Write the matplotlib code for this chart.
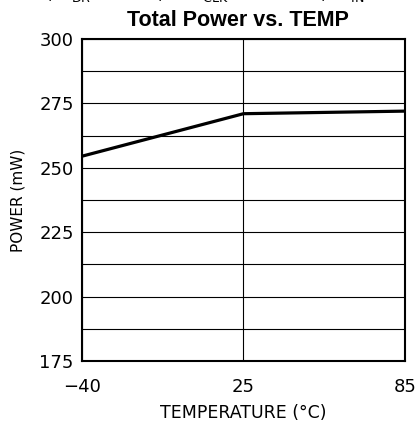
import matplotlib
matplotlib.use("Agg")
import matplotlib.pyplot as plt
from matplotlib.ticker import MultipleLocator

temp_labels = ["-40", "25", "85"]
power_mw = [254.5, 271.0, 272.0]

tick_font = ["Liberation Sans Narrow", "DejaVu Sans Condensed", "DejaVu Sans"]

fig = plt.figure(figsize=(4.17, 4.29), dpi=100)
ax = fig.add_axes([0.1966, 0.1585, 0.7746, 0.7506])

x = list(range(len(temp_labels)))
ax.plot(x, power_mw, color="black", linewidth=2.3, solid_capstyle="butt", zorder=3)

ax.set_xlim(0, 2)
ax.set_ylim(175, 300)
ax.set_xticks(x)
ax.set_xticklabels([t.replace("-", "\u2212") for t in temp_labels])
ax.set_yticks([175, 200, 225, 250, 275, 300])
ax.yaxis.set_minor_locator(MultipleLocator(12.5))

ax.grid(which="both", axis="y", color="black", linewidth=0.8)
ax.grid(which="major", axis="x", color="black", linewidth=0.8)
ax.set_axisbelow(True)

for s in ax.spines.values():
    s.set_linewidth(1.5)

ax.tick_params(which="both", length=0, pad=6)
ax.tick_params(axis="x", pad=12)
for lab in ax.get_xticklabels() + ax.get_yticklabels():
    lab.set_family(tick_font)
    lab.set_fontsize(13)

ax.set_xlabel("TEMPERATURE (\u00b0C)", family=tick_font, fontsize=12.5, labelpad=6)
ax.set_ylabel("POWER (mW)", family=tick_font, fontsize=11, labelpad=10)

ax.set_title("Total Power vs. TEMP", family="Liberation Sans", fontweight="bold",
             fontsize=15.5, pad=9, x=0.482)

# conditions line, mostly cut off at the top edge
conditions = [
    (0.085, "A, V$_{\\mathrm{DR}}$ = 3.3V,"),
    (0.47, "f$_{\\mathrm{CLK}}$ = 80 MHz,"),
    (0.825, "f$_{\\mathrm{IN}}$ = 10 MHz"),
]
for cx, ctext in conditions:
    fig.text(cx, 1.002, ctext, ha="left", va="baseline", family=tick_font, fontsize=13)

fig.savefig("out.png", dpi=100)
